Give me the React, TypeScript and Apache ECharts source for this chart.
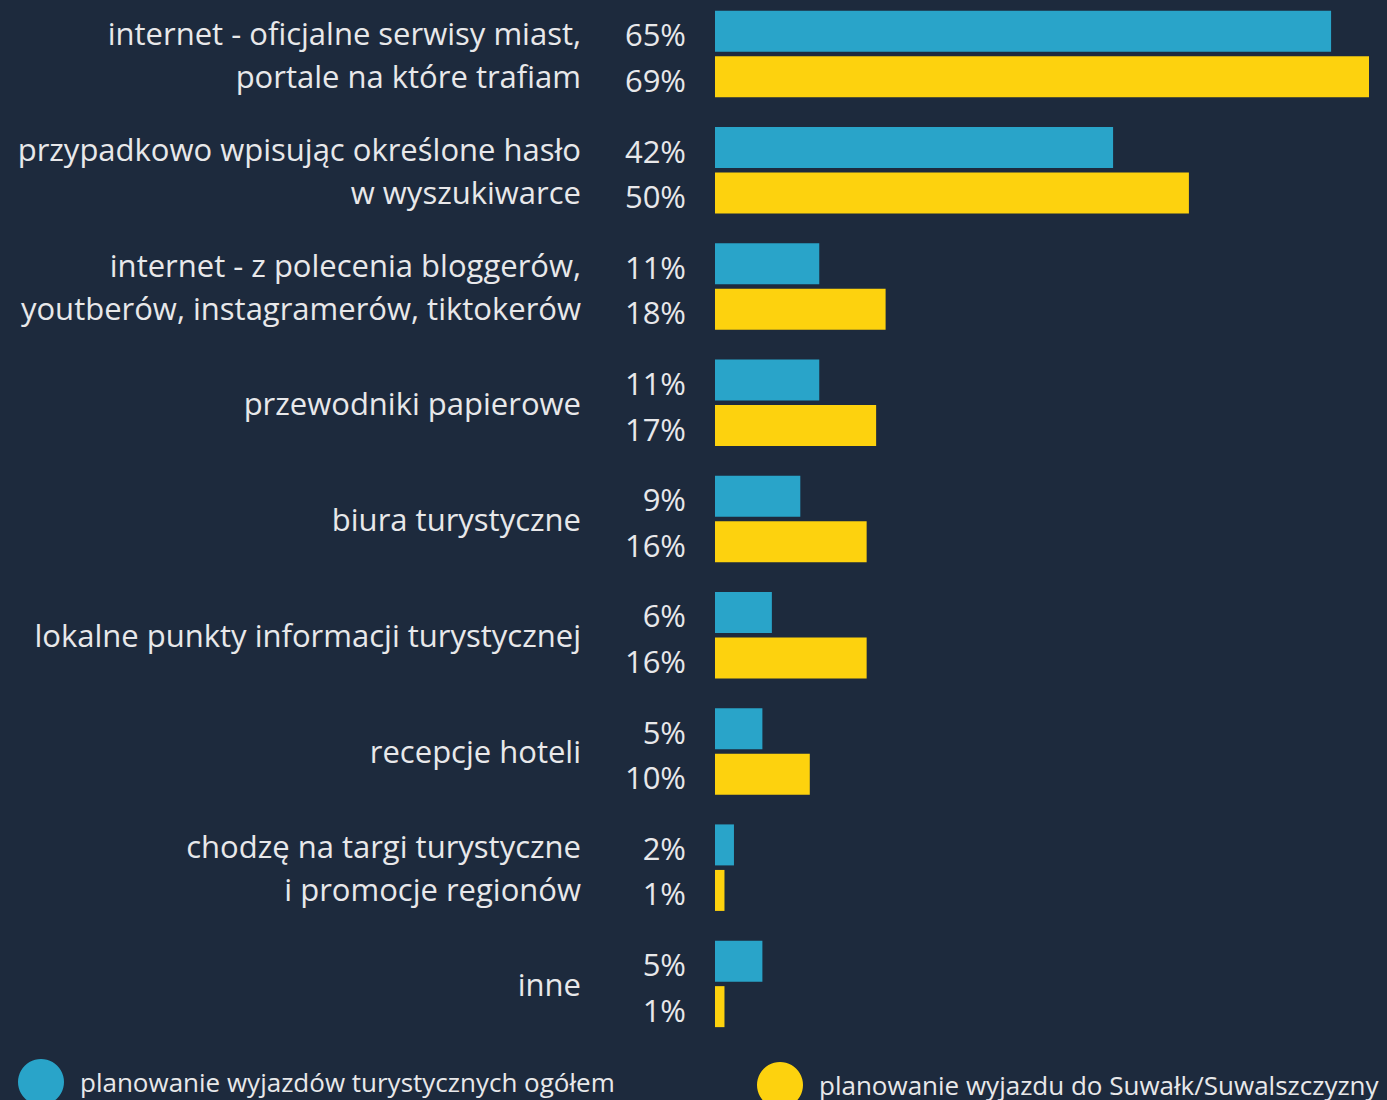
import React, { useEffect, useRef } from "react";
import * as echarts from "echarts";

const categories = [
  "internet - oficjalne serwisy miast,\nportale na które trafiam",
  "przypadkowo wpisując określone hasło\nw wyszukiwarce",
  "internet - z polecenia bloggerów,\nyoutberów, instagramerów, tiktokerów",
  "przewodniki papierowe",
  "biura turystyczne",
  "lokalne punkty informacji turystycznej",
  "recepcje hoteli",
  "chodzę na targi turystyczne\ni promocje regionów",
  "inne",
];
const seriesNames = [
  "planowanie wyjazdów turystycznych ogółem",
  "planowanie wyjazdu do Suwałk/Suwalszczyzny",
];
const general = [65, 42, 11, 11, 9, 6, 5, 2, 5];
const suwalki = [69, 50, 18, 17, 16, 16, 10, 1, 1];

const BG = "#1d2a3d";
const BLUE = "#29a4c9";
const YELLOW = "#fdd20e";
const TEXT = "#e8e8ea";
const FONT = "'Open Sans', sans-serif";

export default function App() {
  const ref = useRef<HTMLDivElement>(null);
  useEffect(() => {
    if (!ref.current) return;
    const chart = echarts.init(ref.current, undefined, { renderer: "svg" });
    const label = {
      show: true,
      position: "left" as const,
      distance: 29,
      offset: [0, 3],
      color: TEXT,
      fontSize: 31,
      fontFamily: FONT,
      formatter: "{c}%",
    };
    const legendText = {
      color: TEXT,
      fontSize: 26,
      fontFamily: FONT,
      padding: [0, 0, 0, 11],
    };
    chart.setOption({
      animation: false,
      backgroundColor: BG,
      textStyle: { fontFamily: FONT },
      grid: { left: 715, top: 0, height: 1046, width: 654 },
      xAxis: {
        type: "value",
        min: 0,
        max: 69,
        show: false,
      },
      yAxis: {
        type: "category",
        data: categories,
        inverse: true,
        axisLine: { show: false },
        axisTick: { show: false },
        splitLine: { show: false },
        axisLabel: {
          margin: 134,
          color: TEXT,
          fontSize: 31,
          lineHeight: 43,
          fontFamily: FONT,
          align: "right",
          padding: [4, 0, 0, 0],
        },
      },
      legend: [
        {
          data: [seriesNames[0]],
          left: 18,
          top: 1063,
          padding: 0,
          icon: "circle",
          itemWidth: 46,
          itemHeight: 46,
          textStyle: legendText,
        },
        {
          data: [seriesNames[1]],
          left: 757,
          top: 1066,
          padding: 0,
          icon: "circle",
          itemWidth: 46,
          itemHeight: 46,
          textStyle: legendText,
        },
      ],
      series: [
        {
          name: seriesNames[0],
          type: "bar",
          data: general,
          barWidth: 41,
          barGap: "11%",
          itemStyle: { color: BLUE },
          label,
        },
        {
          name: seriesNames[1],
          type: "bar",
          data: suwalki,
          barWidth: 41,
          barGap: "11%",
          itemStyle: { color: YELLOW },
          label,
        },
      ],
    });
    return () => chart.dispose();
  }, []);
  return (
    <div
      ref={ref}
      style={{ position: "fixed", left: 0, top: -4, width: 1387, height: 1104 }}
    />
  );
}
